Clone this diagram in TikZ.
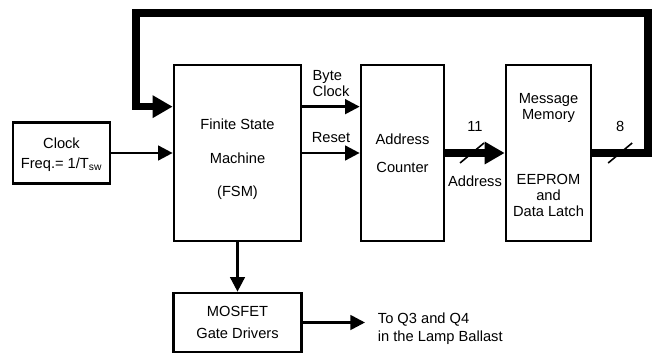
\documentclass[tikz,border=0pt]{standalone}
\usepackage{fontspec}
\setmainfont{Liberation Sans}
\usetikzlibrary{arrows.meta,positioning,calc}

\begin{document}
\begin{tikzpicture}[
      x=0.75pt,y=-0.75pt,
      node distance=40pt,
      font=\fontsize{11}{12}\selectfont,
      blk/.style={draw,line width=2pt,align=center,inner sep=0pt},
      sig/.style={line width=2pt,-{Triangle[length=11pt,width=11pt]}},
      bus/.style={line width=5.5pt,-{Triangle[length=15pt,width=16pt]}},
      lbl/.style={inner sep=3.5pt},
      slash/.style={line width=1.2pt}
    ]
      \useasboundingbox (0,0) rectangle (655,356);
      \node[blk,minimum width=95.25pt,minimum height=132pt] (fsm) at (237.5,153) {\rule{0pt}{17pt}Finite State\\[13.5pt]Machine\\[12.5pt](FSM)};
      \node[blk,minimum width=62.25pt,minimum height=132pt,right=43pt of fsm] (addr) {Address\\[9pt]Counter};
      \node[blk,minimum width=63.75pt,minimum height=132pt,right=44.5pt of addr] (mem) {\rule{0pt}{11pt}Message\\Memory\\[37pt]EEPROM\\and\\Data Latch};
      \node[blk,minimum width=72.75pt,minimum height=45.75pt,left=46pt of fsm] (clk) {\rule{0pt}{10pt}Clock\\[3pt]Freq.= 1/T\textsubscript{sw}};
      \node[blk,minimum width=96pt,minimum height=44.25pt,below=37pt of fsm] (mos) {MOSFET\\[4.5pt]Gate Drivers};
      \node[lbl,anchor=west,align=left] (out) at (373,329) {To Q3 and Q4\\[1.5pt]in the Lamp Ballast};
      \coordinate (bcA) at ([yshift=-32.25pt]fsm.north east);
      \coordinate (fbin) at ([yshift=-32.25pt]fsm.north west);
      \coordinate (topR) at (648,13);
      \coordinate (topL) at (136,13);
      \draw[sig] (clk.east) -- (clk.east -| fsm.west);
      \draw[sig] (bcA) -- node[lbl,above=3pt,align=left] (bclk) {Byte\\Clock} (bcA -| addr.west);
      \draw[sig] (fsm.east) -- node[lbl,above=3pt] (rst) {Reset} (addr.west);
      \draw[bus] (addr.east) -- node[lbl,above=10pt] (w11) {11} node[lbl,below=11pt] (wadr) {Address} coordinate[pos=0.45] (s11) (mem.west);
      \draw[slash] ([shift={(-12,10)}]s11) -- ([shift={(12,-10)}]s11);
      \draw[bus] (mem.east) -- node[lbl,above=10pt] (w8) {8} coordinate[pos=0.5] (s8) (mem.east -| topR) -- (topR) -- (topL) -- (topL |- fbin) -- (fbin);
      \draw[slash] ([shift={(-12,10)}]s8) -- ([shift={(12,-10)}]s8);
      \draw[sig] (fsm.south) -- (mos.north);
      \draw[sig,shorten >=6pt] (mos.east) -- (mos.east -| out.west);
    \end{tikzpicture}
\end{document}
